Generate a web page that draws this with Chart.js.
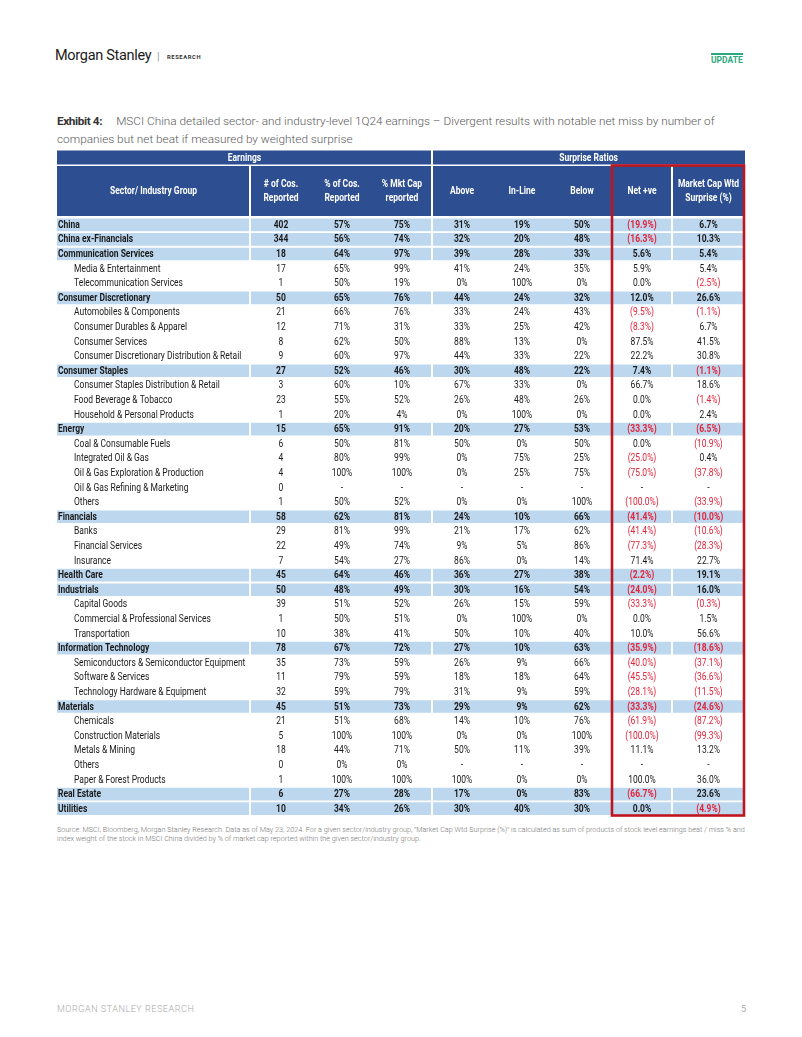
<!DOCTYPE html>
<html>
<head>
<meta charset="utf-8">
<script src="https://cdn.jsdelivr.net/npm/chart.js@4/dist/chart.umd.min.js"></script>
<style>
  html, body { margin: 0; padding: 0; background: #fff; }
  body { width: 802px; height: 1037px; position: relative; overflow: hidden; font-family: Roboto, "Noto Sans", sans-serif; }
  .abs { position: absolute; white-space: nowrap; }
  #brand { left: 55px; top: 47px; font-size: 14.5px; color: #1a1a1a; letter-spacing: -0.3px; }
  #bar { left: 157px; top: 50px; font-size: 11px; color: #999; }
  #research { left: 167px; top: 54px; font-size: 5.8px; font-weight: 700; color: #333; letter-spacing: 0.6px; }
  #update { left: 711px; top: 53px; font-size: 8.4px; font-weight: 700; color: #2aa87c; letter-spacing: 0.1px; border-top: 2px solid #2aa87c; padding-top: 0px; line-height: 10px; }
  #title { left: 57px; top: 112px; font-size: 11.8px; line-height: 18px; color: #5a5a5a; font-weight: 300; }
  #title b { color: #333; font-weight: 700; margin-right: 14px; letter-spacing: -0.4px; }
  #source { left: 57px; top: 826px; font-size: 7.25px; line-height: 8.6px; color: #777; font-weight: 300; }
  #footer { left: 57px; top: 1004px; font-size: 9px; color: #a9a9a9; letter-spacing: 0.55px; font-weight: 300; }
  #pageno { left: 741px; top: 1004px; font-size: 9px; color: #a9a9a9; }
  #wrap { position: absolute; left: 50px; top: 145px; width: 702px; height: 675px; }
</style>
</head>
<body>
<div class="abs" id="brand">Morgan Stanley</div>
<div class="abs" id="bar">|</div>
<div class="abs" id="research">RESEARCH</div>
<div class="abs" id="update">UPDATE</div>
<div class="abs" id="title"><b>Exhibit 4:</b>MSCI China detailed sector- and industry-level 1Q24 earnings – Divergent results with notable net miss by number of<br>companies but net beat if measured by weighted surprise</div>
<div id="wrap"><canvas id="c"></canvas></div>
<div class="abs" id="source">Source: MSCI, Bloomberg, Morgan Stanley Research. Data as of May 23, 2024. For a given sector/industry group, "Market Cap Wtd Surprise (%)" is calculated as sum of products of stock level earnings beat / miss % and<br>index weight of the stock in MSCI China divided by % of market cap reported within the given sector/industry group.</div>
<div class="abs" id="footer">MORGAN STANLEY RESEARCH</div>
<div class="abs" id="pageno">5</div>

<script>
// ---------------- DATA ----------------
const rowNames = [
  "China", "China ex-Financials", "Communication Services", "Media & Entertainment", "Telecommunication Services",
  "Consumer Discretionary", "Automobiles & Components", "Consumer Durables & Apparel", "Consumer Services",
  "Consumer Discretionary Distribution & Retail", "Consumer Staples", "Consumer Staples Distribution & Retail",
  "Food Beverage & Tobacco", "Household & Personal Products", "Energy", "Coal & Consumable Fuels",
  "Integrated Oil & Gas", "Oil & Gas Exploration & Production", "Oil & Gas Refining & Marketing", "Others",
  "Financials", "Banks", "Financial Services", "Insurance", "Health Care", "Industrials", "Capital Goods",
  "Commercial & Professional Services", "Transportation", "Information Technology",
  "Semiconductors & Semiconductor Equipment", "Software & Services", "Technology Hardware & Equipment",
  "Materials", "Chemicals", "Construction Materials", "Metals & Mining", "Others", "Paper & Forest Products",
  "Real Estate", "Utilities"
];
const isSector = [
  true, true, true, false, false,
  true, false, false, false, false, true, false, false, false,
  true, false, false, false, false, false,
  true, false, false, false, true, true, false, false, false, true,
  false, false, false, true, false, false, false, false, false, true, true
];
const cosReported = [402,344,18,17,1,50,21,12,8,9,27,3,23,1,15,6,4,4,0,1,58,29,22,7,45,50,39,1,10,78,35,11,32,45,21,5,18,0,1,6,10];
const pctCosReported = [57,56,64,65,50,65,66,71,62,60,52,60,55,20,65,50,80,100,null,50,62,81,49,54,64,48,51,50,38,67,73,79,59,51,51,100,44,0,100,27,34];
const pctMktCapReported = [75,74,97,99,19,76,76,31,50,97,46,10,52,4,91,81,99,100,null,52,81,99,74,27,46,49,52,51,41,72,59,59,79,73,68,100,71,0,100,28,26];
const above = [31,32,39,41,0,44,33,33,88,44,30,67,26,0,20,50,0,0,null,0,24,21,9,86,36,30,26,0,50,27,26,18,31,29,14,0,50,null,100,17,30];
const inLine = [19,20,28,24,100,24,24,25,13,33,48,33,48,100,27,0,75,25,null,0,10,17,5,0,27,16,15,100,10,10,9,18,9,9,10,0,11,null,0,0,40];
const below = [50,48,33,35,0,32,43,42,0,22,22,0,26,0,53,50,25,75,null,100,66,62,86,14,38,54,59,0,40,63,66,64,59,62,76,100,39,null,0,83,30];
const netPositive = [-19.9,-16.3,5.6,5.9,0.0,12.0,-9.5,-8.3,87.5,22.2,7.4,66.7,0.0,0.0,-33.3,0.0,-25.0,-75.0,null,-100.0,-41.4,-41.4,-77.3,71.4,-2.2,-24.0,-33.3,0.0,10.0,-35.9,-40.0,-45.5,-28.1,-33.3,-61.9,-100.0,11.1,null,100.0,-66.7,0.0];
const mktCapWtdSurprise = [6.7,10.3,5.4,5.4,-2.5,26.6,-1.1,6.7,41.5,30.8,-1.1,18.6,-1.4,2.4,-6.5,-10.9,0.4,-37.8,null,-33.9,-10.0,-10.6,-28.3,22.7,19.1,16.0,-0.3,1.5,56.6,-18.6,-37.1,-36.6,-11.5,-24.6,-87.2,-99.3,13.2,null,36.0,23.6,-4.9];

const groupHeaders = ["Earnings", "Surprise Ratios"];
const columnHeaders = [
  ["Sector/ Industry Group"], ["# of Cos.", "Reported"], ["% of Cos.", "Reported"], ["% Mkt Cap", "reported"],
  ["Above"], ["In-Line"], ["Below"], ["Net +ve"], ["Market Cap Wtd", "Surprise (%)"]
];

// ---------------- LAYOUT (not data) ----------------
const colEdges = [0, 193, 255, 315, 375, 435, 495, 555, 615, 688];
const TABLE_W = 688;
const C = {
  navy: '#2d4f91', band: '#bdd7ee', text: '#1a1a1a', red: '#e3243b', box: '#c0141f', white: '#ffffff'
};
const FONT = 'Roboto, "Noto Sans", sans-serif';
const SX = 0.85; // condensed look

function fmtInt(v) { return v === null ? '-' : String(v); }
function fmtPct(v) { return v === null ? '-' : v + '%'; }
function fmtPct1(v) {
  if (v === null) return '-';
  if (v < 0) return '(' + Math.abs(v).toFixed(1) + '%)';
  return v.toFixed(1) + '%';
}
const columns = [
  { vals: cosReported, fmt: fmtInt },
  { vals: pctCosReported, fmt: fmtPct },
  { vals: pctMktCapReported, fmt: fmtPct },
  { vals: above, fmt: fmtPct },
  { vals: inLine, fmt: fmtPct },
  { vals: below, fmt: fmtPct },
  { vals: netPositive, fmt: fmtPct1, signed: true },
  { vals: mktCapWtdSurprise, fmt: fmtPct1, signed: true }
];

function txt(ctx, s, x, y, align, font, color) {
  ctx.save();
  ctx.translate(x, y);
  ctx.scale(SX, 1);
  ctx.font = font;
  ctx.fillStyle = color;
  ctx.textAlign = align;
  ctx.textBaseline = 'middle';
  ctx.fillText(s, 0, 0);
  ctx.restore();
}

const tablePlugin = {
  id: 'tablePlugin',
  afterDatasetsDraw(chart) {
    const ctx = chart.ctx;
    const xs = chart.scales.x, ys = chart.scales.y;
    const area = chart.chartArea;
    const X = v => xs.getPixelForValue(v);
    const top = area.top;

    // ---- header ----
    const h1Top = top - 67, h1H = 14;
    const h2Top = top - 51.5, h2H = 50;
    ctx.save();
    ctx.fillStyle = C.navy;
    ctx.fillRect(X(0), h1Top, X(colEdges[4]) - X(0) - 1, h1H);
    ctx.fillRect(X(colEdges[4]) + 1, h1Top, X(TABLE_W) - X(colEdges[4]) - 1, h1H);
    ctx.fillRect(X(0), h2Top, X(TABLE_W) - X(0), h2H);
    ctx.restore();
    const hb = 'bold 10px ' + FONT;
    txt(ctx, groupHeaders[0], (X(0) + X(colEdges[4])) / 2, h1Top + h1H / 2 + 0.5, 'center', hb, C.white);
    txt(ctx, groupHeaders[1], (X(colEdges[4]) + X(TABLE_W)) / 2, h1Top + h1H / 2 + 0.5, 'center', hb, C.white);
    const hMid = h2Top + h2H / 2;
    columnHeaders.forEach((lines, c) => {
      const cx = (X(colEdges[c]) + X(colEdges[c + 1])) / 2;
      if (lines.length === 1) txt(ctx, lines[0], cx, hMid + 0.5, 'center', hb, C.white);
      else {
        txt(ctx, lines[0], cx, hMid - 6.5, 'center', hb, C.white);
        txt(ctx, lines[1], cx, hMid + 7.5, 'center', hb, C.white);
      }
    });

    // ---- white separators (header row 2 and sector bands) ----
    ctx.save();
    ctx.strokeStyle = C.white;
    ctx.lineWidth = 2;
    [1, 4, 8].forEach(e => {
      const x = Math.round(X(colEdges[e]));
      ctx.beginPath();
      ctx.moveTo(x, h2Top);
      ctx.lineTo(x, area.bottom);
      ctx.stroke();
    });
    ctx.restore();

    // ---- body text ----
    rowNames.forEach((name, i) => {
      const y = ys.getPixelForValue(i) + 0.5;
      const bold = isSector[i];
      const f = (bold ? 'bold ' : '') + '10px ' + FONT;
      txt(ctx, name, X(0) + (bold ? 1 : 17), y, 'left', f, C.text);
      columns.forEach((col, c) => {
        const v = col.vals[i];
        const cx = (X(colEdges[c + 1]) + X(colEdges[c + 2])) / 2;
        const color = (col.signed && v !== null && v < 0) ? C.red : C.text;
        txt(ctx, col.fmt(v), cx, y, 'center', f, color);
      });
    });

    // ---- red highlight box ----
    ctx.save();
    ctx.strokeStyle = C.box;
    ctx.lineWidth = 2.6;
    const bx0 = X(colEdges[7]), bx1 = X(TABLE_W) - 1;
    ctx.strokeRect(bx0, h2Top - 0.5, bx1 - bx0, area.bottom - h2Top);
    ctx.restore();
  }
};

new Chart(document.getElementById('c'), {
  type: 'bar',
  data: {
    labels: rowNames,
    datasets: [{
      label: 'sector band',
      data: rowNames.map((n, i) => isSector[i] ? [0, TABLE_W] : null),
      backgroundColor: C.band,
      borderWidth: 0,
      barPercentage: 0.87,
      categoryPercentage: 1
    }]
  },
  options: {
    indexAxis: 'y',
    responsive: true,
    maintainAspectRatio: false,
    animation: false,
    events: [],
    layout: { padding: { left: 7, right: 7, top: 72.5, bottom: 4 } },
    scales: {
      x: { type: 'linear', min: 0, max: TABLE_W, display: false },
      y: { type: 'category', display: false, offset: true }
    },
    plugins: { legend: { display: false }, tooltip: { enabled: false } }
  },
  plugins: [tablePlugin]
});
</script>
</body>
</html>
